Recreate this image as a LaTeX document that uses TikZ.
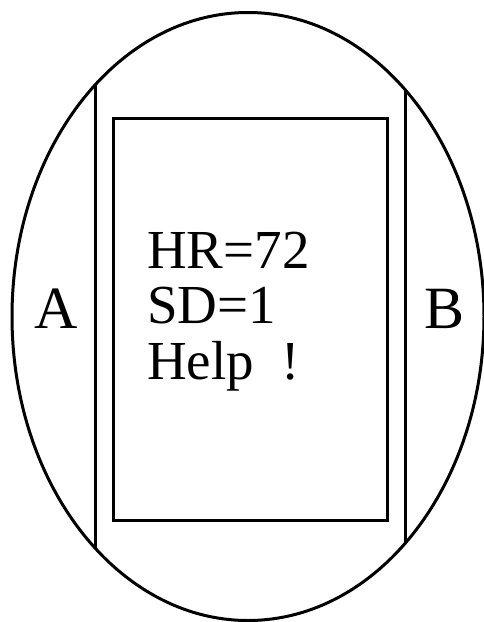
\documentclass[tikz,border=0pt]{standalone}
\usepackage{fontspec}
\setmainfont{Liberation Serif}
\begin{document}
\begin{tikzpicture}[x=1pt,y=-1pt,
  stroke/.style={line width=3pt,black},
  lbl/.style={inner sep=0pt,anchor=base west,font=\fontsize{60}{60}\selectfont},
  txt/.style={inner sep=0pt,anchor=base west,font=\fontsize{55}{55}\selectfont}]
\useasboundingbox (0,0) rectangle (484,622);
\coordinate (c) at (248,316.5);
\draw[stroke] (c) ellipse [x radius=236, y radius=304];
\begin{scope}
  \clip (c) ellipse [x radius=236, y radius=304];
  \draw[stroke] (95,0) coordinate (l1) -- (95,622) coordinate (l2);
  \draw[stroke] (405,0) coordinate (r1) -- (405,622) coordinate (r2);
\end{scope}
\draw[stroke] (113,118) rectangle (387,520);
\node[lbl] (A) at (34,328) {A};
\node[lbl] (B) at (424,328) {B};
\node[txt] (hr) at (147,268) {HR=72};
\node[txt] (sd) at (147,323) {SD=1};
\node[txt] (help) at (147,379) {Help\hspace{0.5em}!};
\end{tikzpicture}
\end{document}
